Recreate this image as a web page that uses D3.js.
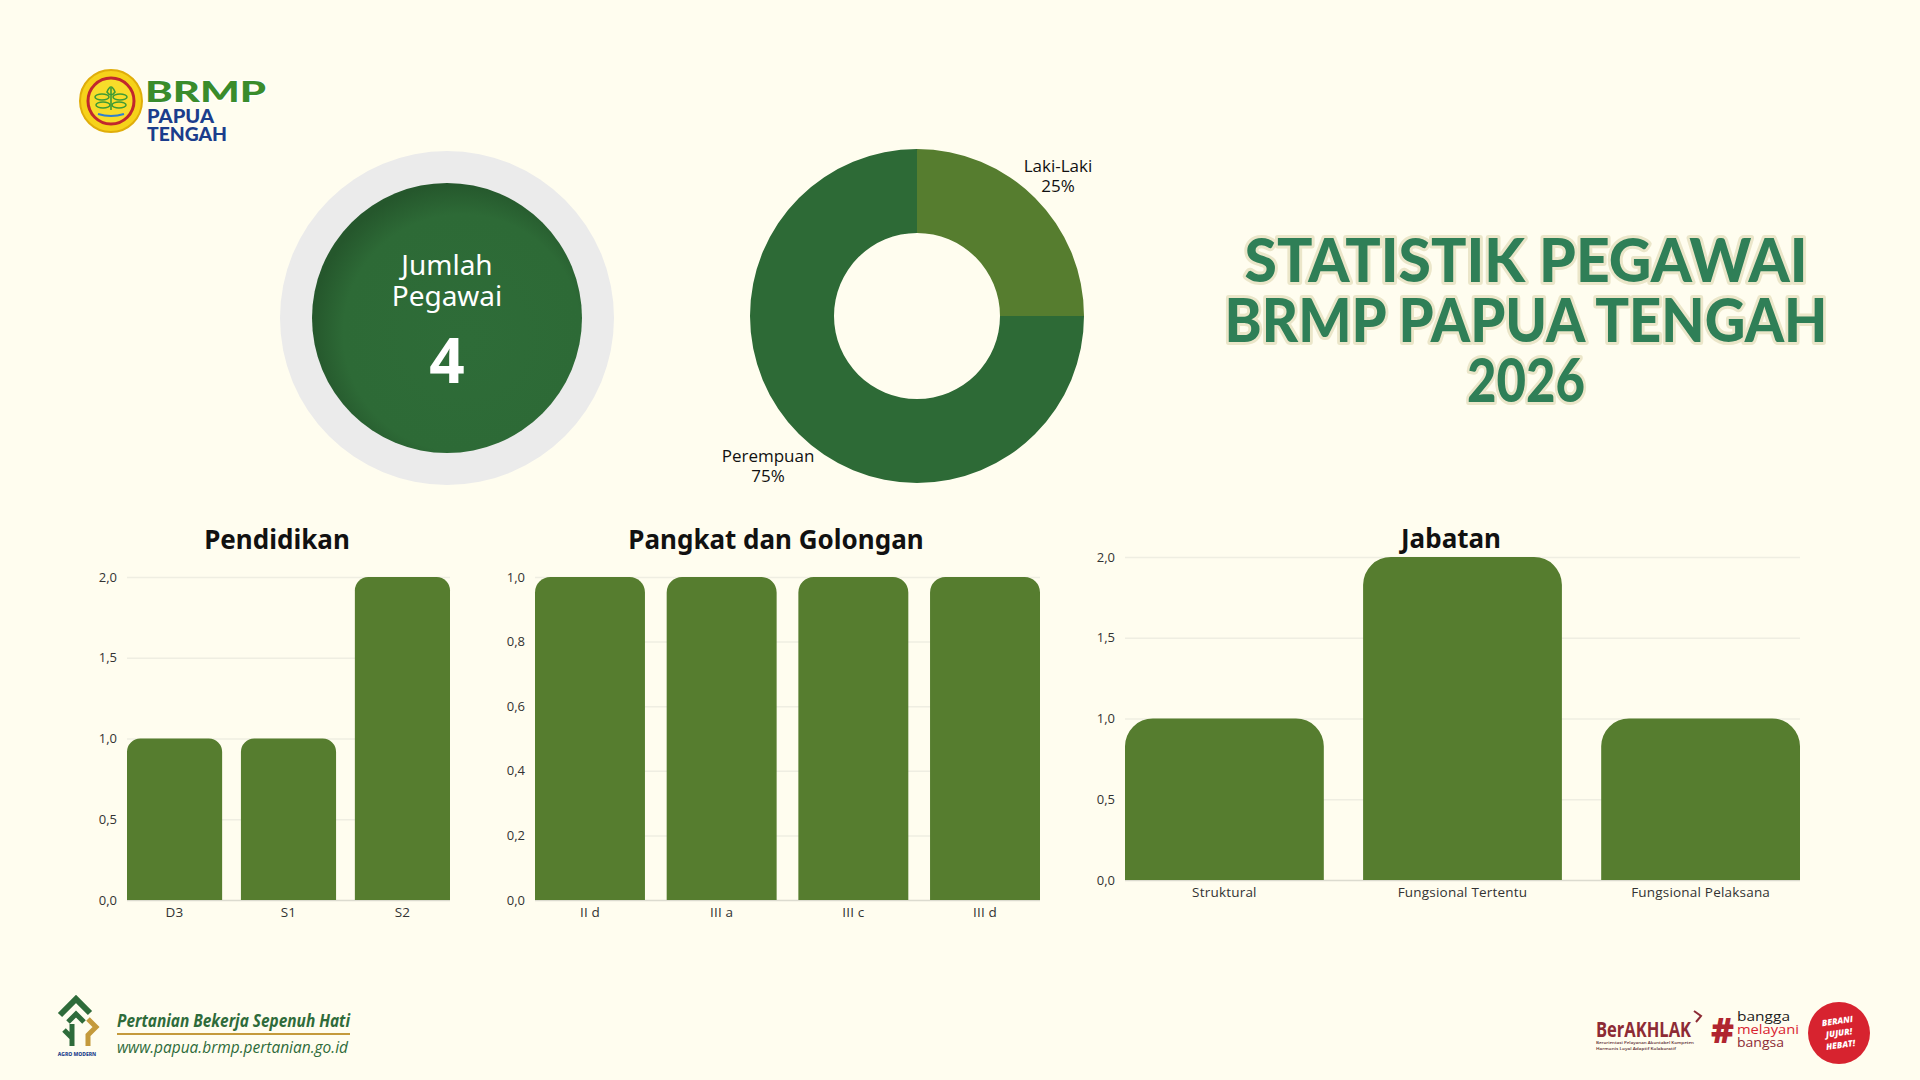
<!DOCTYPE html>
<html>
<head>
<meta charset="utf-8">
<script src="https://cdn.jsdelivr.net/npm/d3@7"></script>
<style>
  html, body { margin: 0; padding: 0; background: #fffdef; }
  svg { display: block; }
</style>
</head>
<body>
<svg id="chart" width="1920" height="1080"></svg>
<script>
const totalPegawai = 4;
const genderLabels = ['Laki-Laki', 'Perempuan'];
const genderValues = [1, 3];

const pendidikanLabels = ['D3', 'S1', 'S2'];
const pendidikanValues = [1, 1, 2];
const pendidikanTicks = [0, 0.5, 1, 1.5, 2];

const pangkatLabels = ['II d', 'III a', 'III c', 'III d'];
const pangkatValues = [1, 1, 1, 1];
const pangkatTicks = [0, 0.2, 0.4, 0.6, 0.8, 1];

const jabatanLabels = ['Struktural', 'Fungsional Tertentu', 'Fungsional Pelaksana'];
const jabatanValues = [1, 2, 1];
const jabatanTicks = [0, 0.5, 1, 1.5, 2];

const titleLines = ['STATISTIK PEGAWAI', 'BRMP PAPUA TENGAH', '2026'];

const svg = d3.select('#chart');
const BAR = '#567d2f';
const DARK = '#2d6a36';
const commaFmt = v => d3.format('.1f')(v).replace('.', ',');

svg.append('rect').attr('width', 1920).attr('height', 1080).attr('fill', '#fffdef');

const defs = svg.append('defs');
const grad = defs.append('radialGradient').attr('id', 'greenBall')
  .attr('cx', '55%').attr('cy', '55%').attr('r', '55%').attr('fx', '58%').attr('fy', '58%');
grad.append('stop').attr('offset', '0%').attr('stop-color', '#2e6c38');
grad.append('stop').attr('offset', '80%').attr('stop-color', '#2d6a36');
grad.append('stop').attr('offset', '100%').attr('stop-color', '#25572c');

// ---- logo top left
const logo = svg.append('g');
logo.append('circle').attr('cx', 111).attr('cy', 101).attr('r', 31)
  .attr('fill', '#f6d21a').attr('stroke', '#e0ad0a').attr('stroke-width', 2);
logo.append('circle').attr('cx', 111).attr('cy', 101).attr('r', 23)
  .attr('fill', '#f8dc2a').attr('stroke', '#c1272d').attr('stroke-width', 3);
[[-9, -4], [9, -4], [-8, 4], [8, 4]].forEach(([dx, dy]) => {
  logo.append('ellipse').attr('cx', 111 + dx).attr('cy', 101 + dy).attr('rx', 7).attr('ry', 3)
    .attr('fill', 'none').attr('stroke', '#3f9b35').attr('stroke-width', 1.6);
});
logo.append('path').attr('d', 'M111,88 L111,110 M107,92 Q111,82 115,92 Q111,98 107,92Z')
  .attr('fill', 'none').attr('stroke', '#3f9b35').attr('stroke-width', 1.6);
logo.append('path').attr('d', 'M98,114 Q111,118 124,114')
  .attr('fill', 'none').attr('stroke', '#2f7fd0').attr('stroke-width', 2);
logo.append('text').attr('x', 145).attr('y', 102).text('BRMP')
  .attr('textLength', 121).attr('lengthAdjust', 'spacingAndGlyphs')
  .style('font', '900 28px Lato, sans-serif').attr('fill', '#3a8c2c')
  .attr('stroke', '#ffffff').attr('stroke-width', 2).style('paint-order', 'stroke');
const logoSub = logo.append('text').style('font', '900 18px Lato, sans-serif').attr('fill', '#1b3d8c');
logoSub.append('tspan').attr('x', 147).attr('y', 123).text('PAPUA')
  .attr('textLength', 67).attr('lengthAdjust', 'spacingAndGlyphs');
logoSub.append('tspan').attr('x', 147).attr('y', 141).text('TENGAH')
  .attr('textLength', 80).attr('lengthAdjust', 'spacingAndGlyphs');

// ---- total employees
const tot = svg.append('g').attr('transform', 'translate(447,318)');
tot.append('circle').attr('r', 167).attr('fill', '#ebebeb');
tot.append('circle').attr('r', 135).attr('fill', 'url(#greenBall)');
const totLabel = tot.append('text').attr('text-anchor', 'middle')
  .style('font', '400 28px "Noto Sans", sans-serif').attr('fill', '#ffffff');
totLabel.append('tspan').attr('x', 0).attr('y', -43).text('Jumlah');
totLabel.append('tspan').attr('x', 0).attr('y', -12).text('Pegawai');
tot.append('text').attr('y', 65).attr('text-anchor', 'middle').text(totalPegawai)
  .style('font', '700 62px "Noto Sans", sans-serif').attr('fill', '#ffffff');

// ---- gender donut
const donut = svg.append('g').attr('transform', 'translate(917,316)');
const pie = d3.pie().sort(null).value(d => d.v);
const genderData = genderLabels.map((l, i) => ({ l, v: genderValues[i] }));
const arcs = pie(genderData);
const arc = d3.arc().innerRadius(83).outerRadius(167);
const labelArc = d3.arc().innerRadius(205).outerRadius(205);
const genderColor = d3.scaleOrdinal().domain(genderLabels).range([BAR, DARK]);
const totalG = d3.sum(genderValues);
donut.selectAll('path').data(arcs).join('path')
  .attr('d', arc).attr('fill', d => genderColor(d.data.l));
const gl = donut.selectAll('text.lbl').data(arcs).join('text').attr('class', 'lbl')
  .attr('transform', d => { const c = labelArc.centroid(d); return `translate(${c[0] - 4},${c[1]})`; })
  .attr('text-anchor', 'middle')
  .style('font', '400 17px "Open Sans", sans-serif').attr('fill', '#111');
gl.append('tspan').attr('x', 0).attr('dy', '0.05em').text(d => d.data.l);
gl.append('tspan').attr('x', 0).attr('dy', '1.2em').text(d => Math.round(d.data.v / totalG * 100) + '%');

// ---- big title
const title = svg.append('g');
const titleWidths = [563, 603, 118];
titleLines.forEach((t, i) => {
  title.append('text').attr('x', 1526).attr('y', 282 + i * 60)
    .attr('text-anchor', 'middle').text(t)
    .attr('textLength', titleWidths[i]).attr('lengthAdjust', 'spacingAndGlyphs')
    .style('font', '900 60px Lato, sans-serif')
    .attr('fill', '#2f7f57').attr('stroke', '#ebe6c9').attr('stroke-width', 6)
    .style('paint-order', 'stroke').attr('stroke-linejoin', 'round');
});

// ---- bar charts
function topRounded(x, y, w, h, r) {
  r = Math.min(r, w / 2, h);
  return `M${x},${y + h}V${y + r}A${r},${r} 0 0 1 ${x + r},${y}H${x + w - r}A${r},${r} 0 0 1 ${x + w},${y + r}V${y + h}Z`;
}

function barChart(o) {
  const g = svg.append('g');
  const x = d3.scaleBand().domain(o.labels).range([o.left, o.right]).paddingInner(0.165).paddingOuter(0);
  const y = d3.scaleLinear().domain([0, o.max]).range([o.bottom, o.top]);

  const yAxis = g.append('g').attr('transform', `translate(${o.left},0)`)
    .call(d3.axisLeft(y).tickValues(o.ticks).tickFormat(commaFmt)
      .tickSize(-(o.right - o.left)).tickPadding(10));
  yAxis.select('.domain').remove();
  yAxis.selectAll('line').attr('stroke', d => d === 0 ? '#dcdbcf' : '#efeee2').attr('stroke-width', 1.5);
  yAxis.selectAll('text').attr('fill', '#333')
    .style('font', '400 13px "Open Sans", sans-serif');

  const xAxis = g.append('g').attr('transform', `translate(0,${o.bottom})`)
    .call(d3.axisBottom(x).tickSize(0).tickPadding(7));
  xAxis.select('.domain').remove();
  xAxis.selectAll('text').attr('fill', '#333')
    .style('font', '400 13.5px "Open Sans", sans-serif').style('letter-spacing', '0.2px');

  g.selectAll('path.bar').data(o.values).join('path').attr('class', 'bar')
    .attr('d', (v, i) => {
      const bx = x(o.labels[i]);
      const w = x.bandwidth();
      return topRounded(bx, y(v), w, y(0) - y(v), w * 0.14);
    })
    .attr('fill', BAR);

  g.append('text').attr('x', o.titleX).attr('y', o.titleY).attr('text-anchor', 'middle')
    .text(o.title).style('font', '700 26px "Noto Sans", sans-serif').attr('fill', '#111');
}

barChart({ labels: pendidikanLabels, values: pendidikanValues, ticks: pendidikanTicks, max: 2,
  left: 127, right: 450, top: 577, bottom: 900, title: 'Pendidikan', titleX: 277, titleY: 549 });
barChart({ labels: pangkatLabels, values: pangkatValues, ticks: pangkatTicks, max: 1,
  left: 535, right: 1040, top: 577, bottom: 900, title: 'Pangkat dan Golongan', titleX: 776, titleY: 549 });
barChart({ labels: jabatanLabels, values: jabatanValues, ticks: jabatanTicks, max: 2,
  left: 1125, right: 1800, top: 557, bottom: 880, title: 'Jabatan', titleX: 1451, titleY: 548 });

// ---- footer left
const fl = svg.append('g');
fl.append('path').attr('d', 'M60,1015 L76,999 L90,1013')
  .attr('fill', 'none').attr('stroke', '#2e6b3a').attr('stroke-width', 6).attr('stroke-linejoin', 'miter');
fl.append('path').attr('d', 'M68,1022 L76,1014 L84,1022 M72,1024 L72,1046 M64,1030 L72,1038')
  .attr('fill', 'none').attr('stroke', '#2e6b3a').attr('stroke-width', 5);
fl.append('path').attr('d', 'M88,1019 L96,1027 L88,1035 L88,1046')
  .attr('fill', 'none').attr('stroke', '#c49a3c').attr('stroke-width', 5);
fl.append('text').attr('x', 77).attr('y', 1056).attr('text-anchor', 'middle').text('AGRO MODERN')
  .style('font', '800 5px "Noto Sans", sans-serif').attr('fill', '#1b3d8c');
fl.append('text').attr('x', 117).attr('y', 1027).text('Pertanian Bekerja Sepenuh Hati')
  .attr('textLength', 233).attr('lengthAdjust', 'spacingAndGlyphs')
  .style('font', 'italic 700 17px "Open Sans", sans-serif').attr('fill', '#2e6b3a');
fl.append('line').attr('x1', 117).attr('x2', 350).attr('y1', 1034).attr('y2', 1034)
  .attr('stroke', '#c49a3c').attr('stroke-width', 2);
fl.append('text').attr('x', 117).attr('y', 1053).text('www.papua.brmp.pertanian.go.id')
  .attr('textLength', 231).attr('lengthAdjust', 'spacingAndGlyphs')
  .style('font', 'italic 400 17px "Open Sans", sans-serif').attr('fill', '#2e6b3a');

// ---- footer right
const fr = svg.append('g');
fr.append('text').attr('x', 1596).attr('y', 1037).text('BerAKHLAK')
  .attr('textLength', 95).attr('lengthAdjust', 'spacingAndGlyphs')
  .style('font', '700 21px "Open Sans", sans-serif').attr('fill', '#8d2b35');
fr.append('path').attr('d', 'M1694,1011 L1701,1016 L1696,1022')
  .attr('fill', 'none').attr('stroke', '#8d2b35').attr('stroke-width', 2);
const tiny = fr.append('text').style('font', '600 3.6px "Open Sans", sans-serif').attr('fill', '#5a2a30');
tiny.append('tspan').attr('x', 1596).attr('y', 1044).text('Berorientasi Pelayanan Akuntabel Kompeten')
  .attr('textLength', 98).attr('lengthAdjust', 'spacingAndGlyphs');
tiny.append('tspan').attr('x', 1596).attr('y', 1050).text('Harmonis Loyal Adaptif Kolaboratif')
  .attr('textLength', 80).attr('lengthAdjust', 'spacingAndGlyphs');
fr.append('text').attr('x', 1711).attr('y', 1043).text('#')
  .attr('textLength', 23).attr('lengthAdjust', 'spacingAndGlyphs')
  .style('font', '900 36px "Open Sans", sans-serif').attr('fill', '#b0252f');
const banggaLines = [['bangga', '#1a1a1a', 53], ['melayani', '#d8232f', 62], ['bangsa', '#8d2b35', 47]];
const bangga = fr.append('text').style('font', '500 12px "Open Sans", sans-serif');
banggaLines.forEach(([t, c, w], i) => {
  bangga.append('tspan').attr('x', 1737).attr('y', 1021 + i * 13).text(t)
    .attr('textLength', w).attr('lengthAdjust', 'spacingAndGlyphs').attr('fill', c);
});
fr.append('circle').attr('cx', 1839).attr('cy', 1033).attr('r', 31).attr('fill', '#d7232f');
const badge = fr.append('text').attr('transform', 'translate(1839,1033) rotate(-8)')
  .attr('text-anchor', 'middle')
  .style('font', 'italic 800 8.5px "Open Sans", sans-serif').attr('fill', '#ffffff');
['BERANI', 'JUJUR!', 'HEBAT!'].forEach((t, i) => {
  badge.append('tspan').attr('x', 0).attr('y', -9 + i * 12).text(t);
});
</script>
</body>
</html>
